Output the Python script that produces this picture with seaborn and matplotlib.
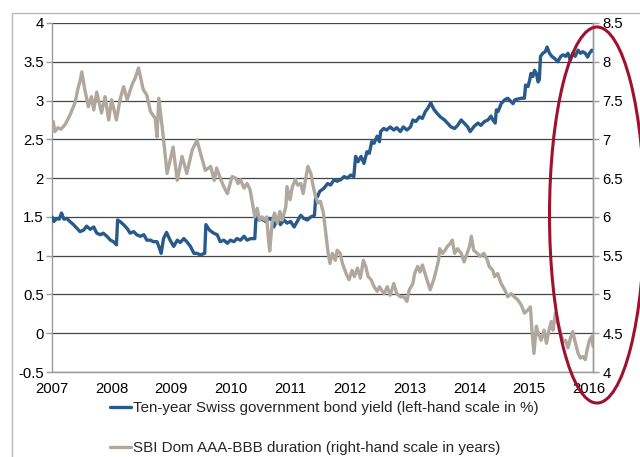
import matplotlib
matplotlib.use("Agg")
import matplotlib.pyplot as plt
import numpy as np
import pandas as pd
import seaborn as sns
from matplotlib.patches import Ellipse, Rectangle
from matplotlib.lines import Line2D
from matplotlib.ticker import FuncFormatter

# Ten-year Swiss government bond yield (left-hand scale, %)
yield_year = [
    2007.00, 2007.03, 2007.08, 2007.12, 2007.16, 2007.20, 2007.25, 2007.30, 2007.36, 2007.42,
    2007.47, 2007.53, 2007.58, 2007.64, 2007.70, 2007.75, 2007.81, 2007.86, 2007.92, 2007.98,
    2008.03, 2008.08, 2008.10, 2008.14, 2008.20, 2008.26, 2008.31, 2008.37, 2008.42, 2008.48,
    2008.54, 2008.59, 2008.65, 2008.70, 2008.76, 2008.80, 2008.83, 2008.87, 2008.92, 2008.98,
    2009.04, 2009.10, 2009.15, 2009.21, 2009.26, 2009.32, 2009.38, 2009.43, 2009.49, 2009.56,
    2009.58, 2009.64, 2009.71, 2009.77, 2009.82, 2009.88, 2009.94, 2009.99, 2010.05, 2010.10,
    2010.16, 2010.22, 2010.27, 2010.33, 2010.40, 2010.42, 2010.47, 2010.52, 2010.58, 2010.64,
    2010.69, 2010.72, 2010.78, 2010.83, 2010.89, 2010.94, 2011.00, 2011.06, 2011.11, 2011.17,
    2011.22, 2011.28, 2011.34, 2011.40, 2011.42, 2011.45, 2011.49, 2011.56, 2011.62, 2011.67,
    2011.73, 2011.78, 2011.84, 2011.90, 2011.95, 2012.01, 2012.06, 2012.09, 2012.13, 2012.18,
    2012.23, 2012.28, 2012.32, 2012.36, 2012.40, 2012.45, 2012.49, 2012.51, 2012.56, 2012.61,
    2012.67, 2012.73, 2012.78, 2012.84, 2012.89, 2012.95, 2013.01, 2013.05, 2013.10, 2013.16,
    2013.21, 2013.26, 2013.30, 2013.35, 2013.40, 2013.45, 2013.51, 2013.58, 2013.63, 2013.69,
    2013.75, 2013.80, 2013.86, 2013.91, 2013.97, 2014.01, 2014.08, 2014.14, 2014.19, 2014.25,
    2014.31, 2014.36, 2014.39, 2014.43, 2014.45, 2014.48, 2014.53, 2014.59, 2014.64, 2014.69,
    2014.73, 2014.76, 2014.81, 2014.87, 2014.92, 2014.94, 2014.98, 2015.01, 2015.03, 2015.06,
    2015.09, 2015.12, 2015.15, 2015.17, 2015.19, 2015.23, 2015.27, 2015.30, 2015.34, 2015.38,
    2015.43, 2015.48, 2015.53, 2015.57, 2015.61, 2015.65, 2015.69, 2015.73, 2015.77, 2015.82,
    2015.86, 2015.90, 2015.94, 2015.98, 2016.01, 2016.05, 2016.07,
]
yield_pct = [
    1.50, 1.44, 1.48, 1.47, 1.55, 1.47, 1.48, 1.44, 1.40, 1.35,
    1.31, 1.33, 1.38, 1.34, 1.37, 1.29, 1.27, 1.29, 1.25, 1.20,
    1.18, 1.14, 1.46, 1.44, 1.40, 1.35, 1.29, 1.31, 1.27, 1.25,
    1.27, 1.20, 1.20, 1.18, 1.18, 1.10, 1.03, 1.22, 1.30, 1.20,
    1.12, 1.20, 1.17, 1.22, 1.18, 1.12, 1.03, 1.03, 1.01, 1.03,
    1.40, 1.33, 1.29, 1.27, 1.18, 1.20, 1.16, 1.20, 1.18, 1.22,
    1.20, 1.25, 1.20, 1.22, 1.22, 1.50, 1.46, 1.47, 1.44, 1.48,
    1.46, 1.37, 1.48, 1.40, 1.46, 1.42, 1.44, 1.37, 1.44, 1.52,
    1.48, 1.46, 1.50, 1.52, 1.74, 1.76, 1.83, 1.87, 1.93, 1.91,
    1.98, 1.96, 1.98, 2.02, 2.00, 2.04, 2.02, 2.28, 2.21, 2.28,
    2.19, 2.34, 2.32, 2.47, 2.45, 2.54, 2.47, 2.60, 2.64, 2.62,
    2.66, 2.62, 2.65, 2.60, 2.66, 2.62, 2.66, 2.75, 2.73, 2.79,
    2.77, 2.86, 2.90, 2.97, 2.89, 2.84, 2.79, 2.75, 2.71, 2.66,
    2.64, 2.68, 2.75, 2.71, 2.66, 2.60, 2.67, 2.71, 2.68, 2.73,
    2.75, 2.80, 2.75, 2.71, 2.88, 2.86, 2.96, 3.01, 3.03, 2.99,
    2.96, 3.01, 3.02, 3.03, 3.03, 3.20, 3.18, 3.27, 3.35, 3.31,
    3.39, 3.35, 3.24, 3.27, 3.57, 3.61, 3.63, 3.69, 3.61, 3.57,
    3.54, 3.50, 3.57, 3.59, 3.57, 3.61, 3.52, 3.61, 3.57, 3.65,
    3.61, 3.63, 3.61, 3.56, 3.61, 3.65, 3.64,
]

# SBI Dom AAA-BBB duration (right-hand scale, years)
duration_year = [
    2007.00, 2007.02, 2007.05, 2007.10, 2007.15, 2007.22, 2007.30, 2007.39, 2007.43, 2007.47,
    2007.50, 2007.55, 2007.61, 2007.66, 2007.70, 2007.75, 2007.83, 2007.89, 2007.95, 2008.00,
    2008.08, 2008.14, 2008.20, 2008.26, 2008.34, 2008.40, 2008.45, 2008.53, 2008.59, 2008.65,
    2008.73, 2008.76, 2008.79, 2008.85, 2008.90, 2008.93, 2008.98, 2009.03, 2009.10, 2009.18,
    2009.26, 2009.35, 2009.43, 2009.49, 2009.57, 2009.66, 2009.72, 2009.76, 2009.83, 2009.88,
    2009.94, 2009.98, 2010.02, 2010.08, 2010.12, 2010.16, 2010.22, 2010.27, 2010.32, 2010.36,
    2010.40, 2010.44, 2010.48, 2010.52, 2010.56, 2010.60, 2010.63, 2010.65, 2010.69, 2010.73,
    2010.78, 2010.82, 2010.86, 2010.92, 2010.94, 2010.99, 2011.03, 2011.08, 2011.12, 2011.17,
    2011.21, 2011.25, 2011.29, 2011.34, 2011.38, 2011.42, 2011.46, 2011.50, 2011.55, 2011.59,
    2011.63, 2011.66, 2011.70, 2011.75, 2011.78, 2011.83, 2011.87, 2011.93, 2011.98, 2012.03,
    2012.07, 2012.12, 2012.17, 2012.22, 2012.26, 2012.30, 2012.35, 2012.40, 2012.45, 2012.49,
    2012.53, 2012.57, 2012.62, 2012.67, 2012.73, 2012.78, 2012.84, 2012.90, 2012.95, 2012.99,
    2013.05, 2013.08, 2013.13, 2013.17, 2013.21, 2013.27, 2013.34, 2013.40, 2013.44, 2013.48,
    2013.50, 2013.55, 2013.59, 2013.63, 2013.68, 2013.71, 2013.75, 2013.80, 2013.86, 2013.91,
    2013.96, 2014.00, 2014.03, 2014.07, 2014.13, 2014.18, 2014.24, 2014.30, 2014.33, 2014.39,
    2014.42, 2014.47, 2014.53, 2014.59, 2014.64, 2014.70, 2014.75, 2014.81, 2014.87, 2014.92,
    2014.98, 2015.02, 2015.05, 2015.08, 2015.12, 2015.16, 2015.20, 2015.25, 2015.29, 2015.32,
    2015.37, 2015.40, 2015.44, 2015.48, 2015.53, 2015.57, 2015.61, 2015.65, 2015.69, 2015.73,
    2015.77, 2015.82, 2015.86, 2015.90, 2015.94, 2015.97, 2016.01, 2016.05, 2016.07,
]
duration_yrs = [
    7.12, 7.23, 7.10, 7.15, 7.13, 7.19, 7.31, 7.48, 7.64, 7.75,
    7.87, 7.64, 7.42, 7.55, 7.38, 7.61, 7.34, 7.55, 7.25, 7.51,
    7.25, 7.51, 7.68, 7.51, 7.70, 7.80, 7.92, 7.64, 7.57, 7.36,
    7.27, 7.03, 7.53, 7.14, 6.78, 6.56, 6.73, 6.90, 6.47, 6.78,
    6.56, 6.86, 6.99, 6.82, 6.60, 6.65, 6.47, 6.63, 6.48, 6.39,
    6.30, 6.41, 6.52, 6.50, 6.43, 6.48, 6.37, 6.43, 6.35, 6.18,
    6.00, 6.11, 5.96, 6.00, 5.96, 6.00, 5.70, 5.56, 5.92, 6.05,
    5.92, 6.07, 5.96, 6.13, 6.39, 6.22, 6.39, 6.48, 6.41, 6.43,
    6.30, 6.48, 6.65, 6.56, 6.39, 6.26, 6.18, 6.20, 6.05, 5.79,
    5.53, 5.40, 5.53, 5.44, 5.57, 5.53, 5.40, 5.27, 5.19, 5.31,
    5.23, 5.34, 5.21, 5.44, 5.36, 5.23, 5.19, 5.10, 5.04, 5.10,
    5.05, 5.01, 5.10, 4.99, 5.14, 5.01, 4.97, 4.97, 4.91, 5.06,
    5.14, 5.27, 5.36, 5.29, 5.38, 5.23, 5.06, 5.19, 5.31, 5.44,
    5.59, 5.53, 5.57, 5.62, 5.66, 5.70, 5.53, 5.59, 5.53, 5.42,
    5.53, 5.62, 5.75, 5.57, 5.53, 5.49, 5.53, 5.44, 5.36, 5.31,
    5.23, 5.27, 5.14, 5.06, 4.97, 5.01, 4.97, 4.93, 4.86, 4.76,
    4.80, 4.84, 4.50, 4.24, 4.59, 4.48, 4.41, 4.54, 4.37, 4.50,
    4.65, 4.54, 4.76, 4.63, 4.50, 4.39, 4.41, 4.31, 4.43, 4.52,
    4.39, 4.24, 4.18, 4.20, 4.16, 4.28, 4.41, 4.46, 4.33,
]

year_ticks = list(range(2007, 2017))
left_ticks = [-0.5, 0, 0.5, 1, 1.5, 2, 2.5, 3, 3.5, 4]
right_ticks = [4, 4.5, 5, 5.5, 6, 6.5, 7, 7.5, 8, 8.5]

legend_labels = [
    "Ten-year Swiss government bond yield (left-hand scale in %)",
    "SBI Dom AAA-BBB duration (right-hand scale in years)",
]

BLUE = "#285b8b"
GREY = "#b0a89f"
GRID = "#454545"
AXIS = "#9a9a9a"
RED = "#a0112f"

sns.set_style("white")
plt.rcParams["font.family"] = ["Liberation Sans", "DejaVu Sans"]
FS = 10.7

yield_df = pd.DataFrame({"year": yield_year, "value": yield_pct})
dur_df = pd.DataFrame({"year": duration_year, "value": duration_yrs})

fig = plt.figure(figsize=(6.4, 4.57), dpi=100)
W, H = 640, 457
ax = fig.add_axes([52 / W, 1 - 372 / H, (593 - 52) / W, (372 - 23) / H])

sns.lineplot(data=yield_df, x="year", y="value", ax=ax, color=BLUE,
             linewidth=2.4, legend=False, zorder=3)

ax2 = ax.twinx()
sns.lineplot(data=dur_df, x="year", y="value", ax=ax2, color=GREY,
             linewidth=2.4, legend=False, zorder=3)

fmt = FuncFormatter(lambda v, p: f"{v:g}")

ax.set_xlim(2007, 2016.07)
ax.set_xticks(year_ticks)
ax.set_xticklabels([str(y) for y in year_ticks])
ax.set_ylim(-0.5, 4)
ax.set_yticks(left_ticks)
ax.yaxis.set_major_formatter(fmt)
ax2.set_ylim(4, 8.5)
ax2.set_yticks(right_ticks)
ax2.yaxis.set_major_formatter(fmt)

ax.yaxis.grid(True, color=GRID, linewidth=0.9)
ax.xaxis.grid(False)
ax.set_axisbelow(True)

for a in (ax, ax2):
    a.set_xlabel("")
    a.set_ylabel("")
    a.spines["top"].set_visible(False)
    for s in ("left", "right", "bottom"):
        a.spines[s].set_color(AXIS)
        a.spines[s].set_linewidth(1.0)
ax2.spines["left"].set_visible(False)
ax2.spines["bottom"].set_visible(False)

ax.tick_params(axis="both", direction="out", length=4, width=1, color=AXIS,
               labelsize=FS, labelcolor="black", pad=2)
ax.tick_params(axis="x", pad=3)
ax2.tick_params(axis="y", direction="out", length=4, width=1, color=AXIS,
                labelsize=FS, labelcolor="black", pad=3)

handles = [Line2D([], [], color=BLUE, linewidth=2.4),
           Line2D([], [], color=GREY, linewidth=2.4)]
fig.legend(handles, legend_labels, loc="upper left",
           bbox_to_anchor=(110 / W, 1 - 401 / H), frameon=False,
           fontsize=10.9, handlelength=1.4, handletextpad=0.1,
           labelspacing=1.75, borderpad=0, borderaxespad=0)

# outer chart frame
fig.add_artist(Rectangle((12 / W, -0.2), 1.2, (H - 13) / H + 0.2,
                         transform=fig.transFigure, fill=False,
                         edgecolor="#b8b8b8", linewidth=1.0))

# highlight around the latest readings
fig.add_artist(Ellipse((597 / 100, (H - 215) / 100), 0.95, 3.76,
                       transform=fig.dpi_scale_trans, fill=False,
                       edgecolor=RED, linewidth=2.2, zorder=10))

fig.savefig("out.png", dpi=100)
